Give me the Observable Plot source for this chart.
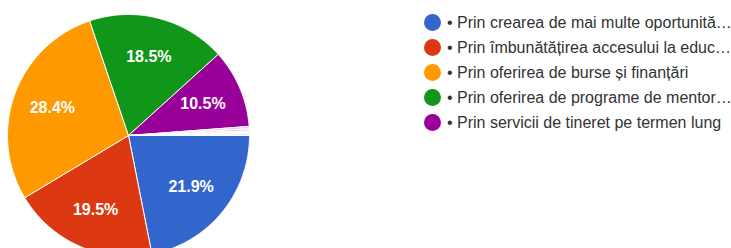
<!DOCTYPE html>
<html>
<head>
<meta charset="utf-8">
<script src="https://cdn.jsdelivr.net/npm/d3@7"></script>
<script src="https://cdn.jsdelivr.net/npm/@observablehq/plot@0.6"></script>
<style>
  html, body { margin: 0; padding: 0; background: #fff; }
  #wrap { position: relative; width: 731px; height: 248px; overflow: hidden; }
  #legend { position: absolute; left: 424px; top: 10px; font-family: "Liberation Sans", Arial, sans-serif; font-size: 16px; color: #333; }
  .row { display: flex; align-items: center; height: 25px; white-space: nowrap; }
  .sw { width: 17px; height: 17px; border-radius: 50%; margin-right: 6px; flex: none; }
</style>
</head>
<body>
<div id="wrap">
  <div id="chart"></div>
  <div id="legend"></div>
</div>
<script>
// Main answers shown in the legend
const categories = [
  "• Prin crearea de mai multe oportunită…",
  "• Prin îmbunătățirea accesului la educ…",
  "• Prin oferirea de burse și finanțări",
  "• Prin oferirea de programe de mentor…",
  "• Prin servicii de tineret pe termen lung"
];
const values = [21.9, 19.5, 28.4, 18.5, 10.5];
const colors = ["#3366cc", "#dc3912", "#ff9900", "#109618", "#990099"];
// Tiny unlabeled slices (thin slivers near 3 o'clock)
const otherNames = ["alt 1", "alt 2", "alt 3", "alt 4", "alt 5"];
const otherValues = [0.3, 0.3, 0.2, 0.2, 0.2];
const otherColors = ["#e3c6e3", "#f3c4d4", "#d9ecc4", "#eeeeee", "#c6d0e6"];
const startAngleDeg = 90; // first slice begins at 3 o'clock, clockwise

const names = categories.concat(otherNames);
const vals = values.concat(otherValues);
const cols = colors.concat(otherColors);
const total = d3.sum(vals);

// Build sector outlines in unit coordinates (radius 1)
const slices = [];
const labels = [];
let acc = 0;
names.forEach((name, i) => {
  const a0 = (startAngleDeg * Math.PI / 180) + acc / total * 2 * Math.PI;
  acc += vals[i];
  const a1 = (startAngleDeg * Math.PI / 180) + acc / total * 2 * Math.PI;
  slices.push({name, x: 0, y: 0});
  const n = Math.max(2, Math.ceil((a1 - a0) / (Math.PI / 360)));
  for (let j = 0; j <= n; j++) {
    const a = a0 + (a1 - a0) * j / n;
    slices.push({name, x: Math.sin(a), y: Math.cos(a)});
  }
  slices.push({name, x: 0, y: 0});
  if (i < categories.length) {
    const am = (a0 + a1) / 2;
    labels.push({name, x: 0.67 * Math.sin(am), y: 0.67 * Math.cos(am), text: vals[i].toFixed(1) + "%"});
  }
});

const W = 731, H = 248, R = 121, CX = 128, CY = 135;
const chart = Plot.plot({
  width: W,
  height: H,
  margin: 0,
  x: {domain: [-CX / R, (W - CX) / R], axis: null},
  y: {domain: [(CY - H) / R, CY / R], axis: null},
  color: {domain: names, range: cols},
  style: {background: "transparent", fontFamily: "'Liberation Sans', Arial, sans-serif"},
  marks: [
    Plot.line(slices, {x: "x", y: "y", z: "name", fill: "name", stroke: "#fff", strokeWidth: 1, strokeLinejoin: "round", curve: "linear"}),
    Plot.text(labels, {x: "x", y: "y", text: "text", fill: "#fff", fontSize: 16, fontWeight: "bold"})
  ]
});
document.getElementById("chart").appendChild(chart);

const legend = d3.select("#legend");
categories.forEach((c, i) => {
  const row = legend.append("div").attr("class", "row");
  row.append("div").attr("class", "sw").style("background", colors[i]);
  row.append("span").text(c);
});
</script>
</body>
</html>
